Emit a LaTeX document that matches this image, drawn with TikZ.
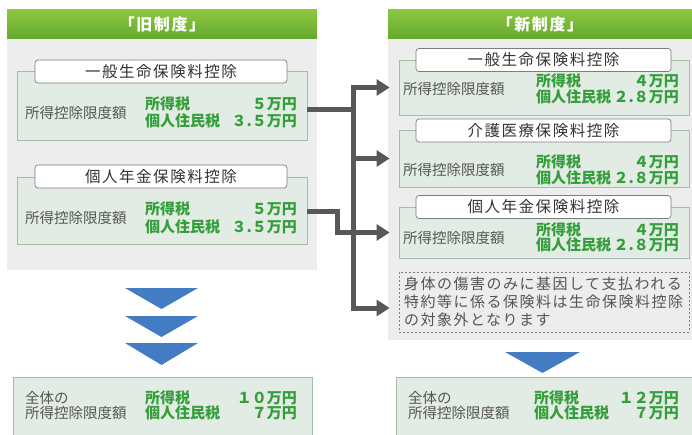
\documentclass[tikz,border=0pt]{standalone}
\usepackage{fontspec}
\usepackage{tikz}
\usetikzlibrary{arrows.meta}
\newfontfamily\jp{Noto Sans CJK JP}
\newfontfamily\jpwide[LetterSpace=10]{Noto Sans CJK JP}
\definecolor{panelgray}{RGB}{237,237,237}
\definecolor{boxfill}{RGB}{226,236,228}
\definecolor{boxline}{RGB}{165,188,172}
\definecolor{pillline}{RGB}{125,125,125}
\definecolor{hdrtop}{RGB}{142,199,66}
\definecolor{hdrbot}{RGB}{98,168,44}
\definecolor{txtgreen}{RGB}{52,158,58}
\definecolor{txtgray}{RGB}{85,85,85}
\definecolor{chevblue}{RGB}{68,124,196}
\definecolor{conngray}{RGB}{88,88,88}

\begin{document}
\begin{tikzpicture}[x=1pt,y=-1pt,
  hdr/.style={top color=hdrtop, bottom color=hdrbot, text=white, inner sep=0,
    font=\jpwide\bfseries\fontsize{16}{18}\selectfont},
  box/.style={fill=boxfill, draw=boxline, line width=0.8pt, inner sep=0},
  pill/.style={fill=white, draw=pillline, line width=0.7pt, rounded corners=3pt,
    inner sep=0, minimum height=23, text=black!80,
    font=\jpwide\fontsize{15.5}{18}\selectfont},
  lbl/.style={text=txtgray, inner sep=0, font=\jp\fontsize{14.5}{17}\selectfont},
  grn/.style={text=txtgreen, inner sep=0, font=\jp\bfseries\fontsize{15}{17}\selectfont},
  note/.style={fill=panelgray, draw=pillline, dash pattern=on 2pt off 2pt, line width=0.8pt,
    inner sep=5pt, text=txtgray, align=left, text width=280pt,
    font=\jpwide\fontsize{15}{18}\selectfont},
  chev/.style={fill=chevblue},
  conn/.style={draw=conngray, line width=5pt},
  arr/.style={conn, -{Triangle[length=13pt,width=16pt]}, shorten >=9pt}]
\clip (0,0) rectangle (692,435);
\fill[white] (0,0) rectangle (692,435);

% old system
\fill[panelgray] (7,39) rectangle (317,270);
\node[hdr, minimum width=310, minimum height=29] (oldhdr) at (162,24.5) {「旧制度」};

\node[box, minimum width=290, minimum height=69] (oldA) at (162,105.5) {};
\node[pill, minimum width=252] (oldApill) at (161,71.5) {一般生命保険料控除};
\node[lbl, anchor=west] (oldAlbl) at (25,113) {所得控除限度額};
\node[grn, anchor=west] (oldAt1) at (145,104) {所得税};
\node[grn, anchor=east] (oldAv1) at (297,104) {５万円};
\node[grn, anchor=west] (oldAt2) at (145,121) {個人住民税};
\node[grn, anchor=east] (oldAv2) at (297,121) {３.５万円};

\node[box, minimum width=290, minimum height=67] (oldB) at (162,210.5) {};
\node[pill, minimum width=252] (oldBpill) at (161,176.5) {個人年金保険料控除};
\node[lbl, anchor=west] (oldBlbl) at (25,218) {所得控除限度額};
\node[grn, anchor=west] (oldBt1) at (145,209) {所得税};
\node[grn, anchor=east] (oldBv1) at (297,209) {５万円};
\node[grn, anchor=west] (oldBt2) at (145,227) {個人住民税};
\node[grn, anchor=east] (oldBv2) at (297,227) {３.５万円};

\fill[chev] (125,288) -- (198,288) -- (161.5,309) -- cycle;
\fill[chev] (125,316) -- (198,316) -- (161.5,337) -- cycle;
\fill[chev] (125,343) -- (198,343) -- (161.5,365) -- cycle;

\node[box, minimum width=299, minimum height=70] (oldtot) at (162.5,412) {};
\node[lbl, anchor=west] (oldtotl1) at (25,398) {全体の};
\node[lbl, anchor=west] (oldtotl2) at (25,413) {所得控除限度額};
\node[grn, anchor=west] (oldtott1) at (145,398) {所得税};
\node[grn, anchor=east] (oldtotv1) at (297,398) {１０万円};
\node[grn, anchor=west] (oldtott2) at (145,413) {個人住民税};
\node[grn, anchor=east] (oldtotv2) at (297,413) {７万円};

% new system
\fill[panelgray] (388,39) rectangle (692,340);
\node[hdr, minimum width=304, minimum height=29] (newhdr) at (540,24.5) {「新制度」};

\node[box, minimum width=290, minimum height=55] (newA) at (544,87.5) {};
\node[pill, minimum width=255] (newApill) at (543.5,60) {一般生命保険料控除};
\node[lbl, anchor=west] (newAlbl) at (403,89) {所得控除限度額};
\node[grn, anchor=west] (newAt1) at (536,81) {所得税};
\node[grn, anchor=east] (newAv1) at (679,81) {４万円};
\node[grn, anchor=west] (newAt2) at (536,97) {個人住民税};
\node[grn, anchor=east] (newAv2) at (679,97) {２.８万円};

\node[box, minimum width=290, minimum height=57] (newB) at (544,158.5) {};
\node[pill, minimum width=255] (newBpill) at (543.5,130.5) {介護医療保険料控除};
\node[lbl, anchor=west] (newBlbl) at (403,170) {所得控除限度額};
\node[grn, anchor=west] (newBt1) at (536,162) {所得税};
\node[grn, anchor=east] (newBv1) at (679,162) {４万円};
\node[grn, anchor=west] (newBt2) at (536,178) {個人住民税};
\node[grn, anchor=east] (newBv2) at (679,178) {２.８万円};

\node[box, minimum width=290, minimum height=51] (newC) at (544,232.5) {};
\node[pill, minimum width=255] (newCpill) at (543.5,207) {個人年金保険料控除};
\node[lbl, anchor=west] (newClbl) at (403,238) {所得控除限度額};
\node[grn, anchor=west] (newCt1) at (536,230) {所得税};
\node[grn, anchor=east] (newCv1) at (679,230) {４万円};
\node[grn, anchor=west] (newCt2) at (536,245) {個人住民税};
\node[grn, anchor=east] (newCv2) at (679,245) {２.８万円};

\node[note, minimum height=60] (note) at (544,302) {身体の傷害のみに基因して支払われる\\特約等に係る保険料は生命保険料控除\\の対象外となります};

\fill[chev] (505,352) -- (580,352) -- (542.5,373) -- cycle;

\node[box, minimum width=304, minimum height=70] (newtot) at (548,412) {};
\node[lbl, anchor=west] (newtotl1) at (408,398) {全体の};
\node[lbl, anchor=west] (newtotl2) at (408,413) {所得控除限度額};
\node[grn, anchor=west] (newtott1) at (534,398) {所得税};
\node[grn, anchor=east] (newtotv1) at (679,398) {１２万円};
\node[grn, anchor=west] (newtott2) at (534,413) {個人住民税};
\node[grn, anchor=east] (newtotv2) at (679,413) {７万円};

% connectors
\coordinate (split) at (353,0);
\coordinate (bend) at (337,0);
\draw[arr] ([yshift=-4.5pt]oldA.east) -| (split |- newA.west) -- (newA.west);
\draw[arr] (split |- newA.west) |- ([yshift=-6pt]note.west);
\draw[arr] (split |- newB.west) -- (newB.west);
\draw[arr] ([yshift=-1.5pt]oldB.east) -| (bend |- newC.west) -- (newC.west);
\end{tikzpicture}
\end{document}
